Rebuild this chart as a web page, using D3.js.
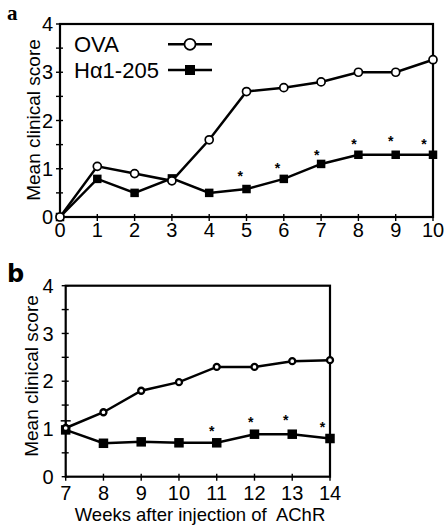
<!DOCTYPE html>
<html><head><meta charset="utf-8">
<script src="https://cdn.jsdelivr.net/npm/d3@7"></script>
<style>
body{margin:0;background:#fff;}
svg{display:block;font-family:"Liberation Sans",Arial,Helvetica,sans-serif;}
</style></head>
<body><svg id="c" width="446" height="530"></svg>
<script>
// ---- data ----
const weeksA = [0,1,2,3,4,5,6,7,8,9,10];
const ovaA   = [0,1.05,0.9,0.75,1.6,2.6,2.68,2.8,3.0,3.0,3.26];
const haA    = [0,0.79,0.5,0.8,0.5,0.58,0.79,1.1,1.29,1.29,1.29];
const starXA = [4.83,5.83,6.88,7.88,8.87,9.76];
const starYA = [0.87,1.04,1.30,1.54,1.59,1.54];

const weeksB = [7,8,9,10,11,12,13,14];
const ovaB   = [1.02,1.35,1.8,1.98,2.3,2.3,2.42,2.44];
const haB    = [0.98,0.7,0.73,0.71,0.71,0.89,0.89,0.8];
const errXB  = [7];
const errHiB = [1.17];
const starXB = [10.87,11.9,12.83,13.8];
const starYB = [0.98,1.17,1.21,1.07];

const yTicks = [0,1,2,3,4];
const yMinor = [0.5,1.5,2.5,3.5];
const legendLabels = ["OVA","H\u03b11-205"];
const yTitle = "Mean clinical score";
const xTitleB = "Weeks after injection of  AChR";

const svg = d3.select("#c");

function panel(o){
  const g = svg.append("g");
  const x = d3.scaleLinear().domain(o.xDomain).range(o.xRange);
  const y = d3.scaleLinear().domain([0,4]).range(o.yRange);
  g.append("rect").attr("x",x(o.xDomain[0])).attr("y",y(4))
    .attr("width",x(o.xDomain[1])-x(o.xDomain[0])).attr("height",y(0)-y(4))
    .attr("fill","none").attr("stroke","#000").attr("stroke-width",2.2);
  const x0 = x(o.xDomain[0]);
  g.selectAll(".yt").data(yTicks.concat(yMinor)).join("line")
    .attr("x1",x0-4).attr("x2",x0+3).attr("y1",d=>y(d)).attr("y2",d=>y(d))
    .attr("stroke","#000").attr("stroke-width",1.4);
  g.selectAll(".yl").data(yTicks).join("text")
    .attr("x",x0-o.yLabOff).attr("y",d=>y(d)).attr("dy","0.36em")
    .attr("text-anchor","end").attr("font-size",20).text(d=>d);
  const y0 = y(0);
  g.selectAll(".xt").data(o.weeks).join("line")
    .attr("x1",d=>x(d)).attr("x2",d=>x(d)).attr("y1",y0-3).attr("y2",y0+4)
    .attr("stroke","#000").attr("stroke-width",1.4);
  g.selectAll(".xl").data(o.weeks).join("text")
    .attr("x",d=>x(d)).attr("y",o.xLabBase)
    .attr("text-anchor","middle").attr("font-size",20).text(d=>d);
  g.append("text").attr("transform",`translate(${o.yTitleX},${o.yTitleY}) rotate(-90)`)
    .attr("text-anchor","middle").attr("font-size",19).text(yTitle);
  if(o.errX){
    o.errX.forEach((ex,i)=>{
      g.append("line").attr("x1",x(ex)).attr("x2",x(ex)).attr("y1",y(o.ova[o.weeks.indexOf(ex)])).attr("y2",y(o.errHi[i]))
        .attr("stroke","#000").attr("stroke-width",1.5);
      g.append("line").attr("x1",x(ex)-5).attr("x2",x(ex)+5).attr("y1",y(o.errHi[i])).attr("y2",y(o.errHi[i]))
        .attr("stroke","#000").attr("stroke-width",1.5);
    });
  }
  const line = d3.line().x((d,i)=>x(o.weeks[i])).y(d=>y(d));
  g.append("path").attr("d",line(o.ha)).attr("fill","none").attr("stroke","#000").attr("stroke-width",2.5);
  g.append("path").attr("d",line(o.ova)).attr("fill","none").attr("stroke","#000").attr("stroke-width",2.5);
  g.selectAll(".sq").data(o.ha).join("rect")
    .attr("x",(d,i)=>x(o.weeks[i])-o.sq/2).attr("y",d=>y(d)-o.sq/2)
    .attr("width",o.sq).attr("height",o.sq).attr("fill","#000");
  g.selectAll(".ci").data(o.ova).join("circle")
    .attr("cx",(d,i)=>x(o.weeks[i])).attr("cy",d=>y(d)).attr("r",o.cr)
    .attr("fill","#fff").attr("stroke","#000").attr("stroke-width",o.cw);
  g.selectAll(".st").data(o.starX).join("text")
    .attr("x",d=>x(d)).attr("y",(d,i)=>y(o.starY[i])+6)
    .attr("text-anchor","middle").attr("font-size",14).attr("font-weight","bold").attr("fill","#000").text("*");
  return {g,x,y};
}

const A = panel({xDomain:[0,10],xRange:[60,433],yRange:[217,24],weeks:weeksA,ova:ovaA,ha:haA,
  starX:starXA,starY:starYA,yLabOff:7,xLabBase:237,yTitleX:40,yTitleY:120,sq:8.5,cr:4,cw:1.7});
const B = panel({xDomain:[7,14],xRange:[65.7,330],yRange:[476.7,285.7],weeks:weeksB,ova:ovaB,ha:haB,
  starX:starXB,starY:starYB,errX:errXB,errHi:errHiB,yLabOff:12,xLabBase:500,yTitleX:38,yTitleY:376,sq:9.5,cr:3,cw:2.3});

const lg = A.g.append("g");
legendLabels.forEach((t,i)=>{
  const ly = [44.3,70][i];
  lg.append("text").attr("x",74).attr("y",ly+8).attr("font-size",22).text(t);
  lg.append("line").attr("x1",168).attr("x2",212).attr("y1",ly).attr("y2",ly).attr("stroke","#000").attr("stroke-width",2.5);
  if(i===0) lg.append("circle").attr("cx",190).attr("cy",ly).attr("r",5.5).attr("fill","#fff").attr("stroke","#000").attr("stroke-width",1.7);
  else lg.append("rect").attr("x",185).attr("y",ly-5).attr("width",10).attr("height",10).attr("fill","#000");
});

svg.append("text").attr("x",200).attr("y",521).attr("text-anchor","middle").attr("font-size",18.5)
  .style("white-space","pre").text(xTitleB);

svg.append("text").attr("x",7).attr("y",20).attr("font-family","'Liberation Serif',serif").attr("font-weight","bold").attr("font-size",21).text("a");
svg.append("text").attr("x",7).attr("y",282).attr("font-family","'DejaVu Sans',sans-serif").attr("font-weight","bold").attr("font-size",24).text("b");
</script></body></html>
